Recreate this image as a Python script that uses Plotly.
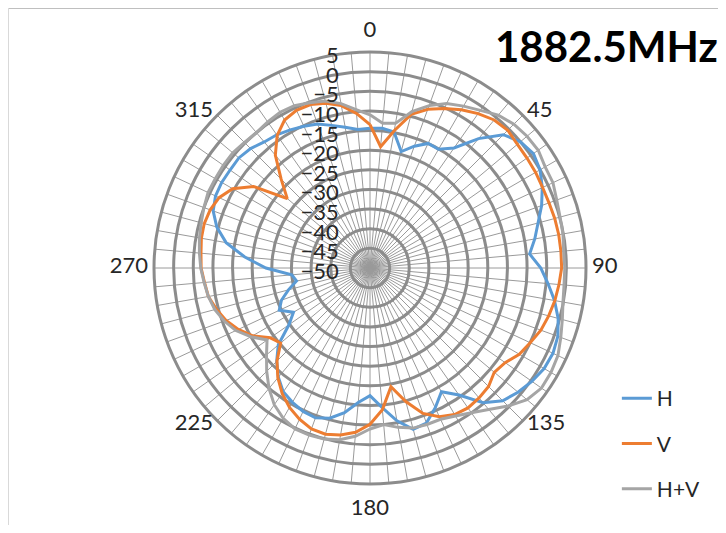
import plotly.graph_objects as go

# angles every 5 degrees; compass labels every 45
angles = list(range(0, 360, 5))
label_angles = list(range(0, 360, 45))
label_text = [str(a) for a in label_angles]

# H polarisation (dB)
h_vals = [
    -14.4, -14.3, -14.8, -19.3, -17.0, -15.0, -15.1, -12.7, -7.0, -2.0,
    0.0, 0.8, 0.0, -1.6, -3.5, -5.7, -7.4, -9.2, -6.5, -4.5,
    -2.3, -0.4, 0.9, 1.4, 1.2, 0.3, -0.8, -2.2, -5.2, -10.5,
    -13.6, -10.7, -8.0, -7.5, -10.5, -14.3, -17.5, -15.6, -12.6, -10.4,
    -9.4, -9.7, -10.5, -11.5, -13.7, -16.4, -19.5, -24.8, -27.5, -24.5,
    -26.0, -28.5, -31.0, -30.0, -23.5, -18.0, -12.8, -9.6, -7.5, -6.6,
    -6.4, -6.5, -6.4, -7.0, -8.1, -8.6, -9.4, -10.2, -11.0, -12.4,
    -13.6, -14.6,
]

# V polarisation (dB)
v_vals = [
    -13.5, -19.0, -14.5, -9.5, -7.0, -5.2, -3.5, -2.0, -0.8, -0.4,
    -1.0, -1.2, -1.3, -1.5, -1.5, -1.3, -1.2, -1.2, -1.2, -1.7,
    -2.2, -2.9, -3.7, -5.0, -6.1, -8.0, -8.7, -7.3, -6.8, -6.5,
    -6.9, -8.2, -10.6, -14.8, -19.3, -13.8, -10.2, -8.0, -6.8, -6.2,
    -6.4, -7.5, -9.0, -11.0, -13.5, -16.5, -20.3, -19.0, -15.5, -13.0,
    -11.0, -9.5, -8.2, -7.7, -7.0, -6.8, -6.4, -6.3, -6.7, -7.6,
    -9.6, -13.8, -22.5, -18.0, -12.5, -8.8, -6.5, -5.7, -5.7, -6.6,
    -8.0, -10.5,
]

# H+V combined (dB)
hv_vals = [
    -11.0, -13.0, -12.6, -8.8, -6.0, -3.8, -2.4, -1.0, 0.8, 1.8,
    2.2, 2.3, 1.5, 1.4, 0.6, 0.1, -0.1, -0.5, -0.4, -0.4,
    -0.1, 0.7, 1.7, 2.8, 3.2, 3.3, 2.2, -0.3, -3.0, -5.0,
    -6.5, -7.5, -7.6, -7.8, -8.8, -10.0, -9.0, -7.0, -5.6, -4.9,
    -4.7, -4.8, -5.8, -7.5, -10.0, -12.8, -15.6, -18.0, -15.0, -12.3,
    -10.5, -9.1, -8.2, -7.6, -6.9, -6.4, -5.9, -5.5, -5.0, -4.5,
    -4.5, -4.4, -4.4, -4.8, -5.0, -4.6, -4.2, -4.4, -5.2, -6.0,
    -7.5, -9.5,
]

series = [("H", h_vals, "#5B9BD5"), ("V", v_vals, "#ED7D31"), ("H+V", hv_vals, "#A5A5A5")]

fig = go.Figure()
for name, vals, color in series:
    fig.add_trace(go.Scatterpolar(
        r=vals + [vals[0]],
        theta=angles + [angles[0]],
        mode="lines",
        name=name,
        legendgroup=name,
        line=dict(color=color, width=3),
    ))

grid = "#8C8C8C"
# page body has an 8px margin, so the figure sits 8px in from the window edge
W, H = 718, 517
cx, cy, R = 362, 260, 216
label_px = 222          # radius where the compass labels are anchored
lab_max = 1.06
R2 = label_px * lab_max

# extra clearance (px) per text placement, top/bottom labels need a bit more room
side_pad = {"top center": 4, "bottom center": 9, "middle right": 0, "middle left": 0}


def label_side(a):
    # Excel hangs the labels off the ring: right half to the right, left half to the left
    if a == 0:
        return "top center"
    if a == 180:
        return "bottom center"
    return "middle right" if a < 180 else "middle left"


sides = [label_side(a) for a in label_angles]

# compass labels sit on an invisible, slightly larger polar overlay
fig.add_trace(go.Scatterpolar(
    r=[1 + side_pad[s] / label_px for s in sides],
    theta=label_angles,
    text=label_text,
    mode="text",
    textposition=sides,
    textfont=dict(family="Lato", size=22, color="#262626"),
    cliponaxis=False,
    showlegend=False,
    hoverinfo="skip",
    subplot="polar2",
))

fig.update_layout(
    width=W, height=H,
    margin=dict(l=0, r=0, t=0, b=0),
    paper_bgcolor="white",
    font=dict(family="Lato", size=22, color="#262626"),
    polar=dict(
        domain=dict(x=[(cx - R) / W, (cx + R) / W], y=[1 - (cy + R) / H, 1 - (cy - R) / H]),
        bgcolor="white",
        radialaxis=dict(
            range=[-50, 5], dtick=5, angle=90, side="counterclockwise",
            showline=False, gridcolor=grid, gridwidth=2.5,
            ticks="outside", ticklen=11, tickcolor="rgba(0,0,0,0)",
            tickfont=dict(size=22, color="#262626"),
        ),
        angularaxis=dict(
            rotation=90, direction="clockwise",
            tickmode="array", tickvals=angles, showticklabels=False,
            gridcolor="#9A9A9A", gridwidth=1.2,
            showline=True, linecolor=grid, linewidth=3,
            ticks="",
        ),
    ),
    polar2=dict(
        domain=dict(x=[(cx - R2) / W, (cx + R2) / W], y=[1 - (cy + R2) / H, 1 - (cy - R2) / H]),
        bgcolor="rgba(0,0,0,0)",
        radialaxis=dict(range=[0, lab_max], visible=False),
        angularaxis=dict(rotation=90, direction="clockwise", visible=False,
                         showgrid=False, showline=False),
    ),
    legend=dict(
        x=0.848, y=0.2843, xanchor="left", yanchor="top",
        font=dict(size=21, color="#262626"),
        tracegroupgap=15, bgcolor="rgba(0,0,0,0)",
    ),
    annotations=[dict(
        text="<b>1882.5MHz</b>", x=0.9916, y=0.9265, xref="paper", yref="paper",
        xanchor="right", yanchor="middle", showarrow=False,
        font=dict(family="Lato", size=42, color="#000000"),
    )],
    shapes=[
        dict(type="line", xref="paper", yref="paper", x0=0, x1=1,
             y0=1 - 0.5 / H, y1=1 - 0.5 / H, line=dict(color="#BFBFBF", width=1)),
        dict(type="line", xref="paper", yref="paper", x0=0.5 / W, x1=0.5 / W,
             y0=0, y1=1, line=dict(color="#D9D9D9", width=1)),
    ],
)

fig.write_html("out.html")
